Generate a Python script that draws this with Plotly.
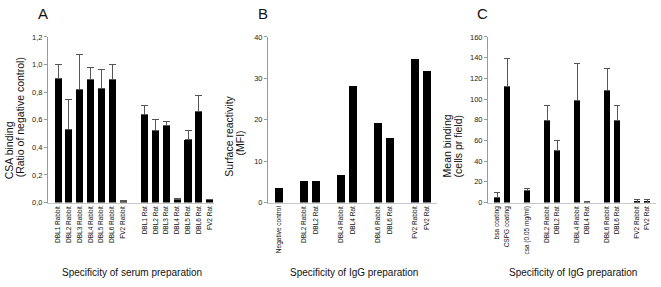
import plotly.graph_objects as go

# ---- Panel A data ----
a_cats = ["DBL1 Rabbit", "DBL2 Rabbit", "DBL3 Rabbit", "DBL4 Rabbit", "DBL5 Rabbit", "DBL6 Rabbit", "FV2 Rabbit",
          " ",
          "DBL1 Rat", "DBL2 Rat", "DBL3 Rat", "DBL4 Rat", "DBL5 Rat", "DBL6 Rat", "FV2 Rat"]
a_vals = [0.90, 0.53, 0.82, 0.89, 0.825, 0.895, 0.01,
          None,
          0.635, 0.52, 0.555, 0.02, 0.455, 0.66, 0.02]
a_err = [0.10, 0.215, 0.25, 0.09, 0.14, 0.105, 0.005,
         None,
         0.065, 0.08, 0.035, 0.01, 0.065, 0.115, 0.005]
a_ticks = [0, 0.2, 0.4, 0.6, 0.8, 1.0, 1.2]
a_ticktext = ["0,0", "0,2", "0,4", "0,6", "0,8", "1,0", "1,2"]

# ---- Panel B data ----
b_cats = ["Negative control", " ", "DBL2 Rabbit", "DBL2 Rat", "  ", "DBL4 Rabbit", "DBL4 Rat",
          "   ", "DBL6 Rabbit", "DBL6 Rat", "    ", "FV2 Rabbit", "FV2 Rat"]
b_vals = [3.5, None, 5.3, 5.3, None, 6.7, 28.2, None, 19.3, 15.7, None, 34.8, 31.8]
b_ticks = [0, 10, 20, 30, 40]

# ---- Panel C data ----
c_cats = ["bsa coating", "CSPG coating", " ", "csa (0.05 mg/ml)", "  ", "DBL2 Rabbit", "DBL2 Rat",
          "   ", "DBL4 Rabbit", "DBL4 Rat", "    ", "DBL6 Rabbit", "DBL6 Rat", "     ",
          "FV2 Rabbit", "FV2 Rat"]
c_vals = [4.7, 112.3, None, 11.5, None, 78.9, 49.9, None, 98.9, 1.0, None, 108.5, 79.5, None, 1.0, 1.0]
c_err_up = [5.3, 26.4, None, 2.2, None, 14.4, 10.3, None, 35.1, 0.5, None, 20.9, 14.3, None, 2.0, 1.5]
c_err_dn = [0, 0, None, 0, None, 0, 0, None, 0, 0, None, 0, 0, None, 1.0, 1.0]
c_ticks = [0, 20, 40, 60, 80, 100, 120, 140, 160]

W, H = 661, 287
FONT = "Liberation Sans, Arial, sans-serif"
ERRC = "#555555"

fig = go.Figure()

fig.add_trace(go.Bar(
    x=a_cats, y=a_vals, marker=dict(color="black", line=dict(width=0)), width=0.65,
    error_y=dict(type="data", symmetric=False, array=a_err, arrayminus=[0] * len(a_err),
                 color=ERRC, thickness=1, width=3.5),
    xaxis="x", yaxis="y", showlegend=False))

fig.add_trace(go.Bar(
    x=b_cats, y=b_vals, marker=dict(color="black", line=dict(width=0)), width=0.65,
    xaxis="x2", yaxis="y2", showlegend=False))

fig.add_trace(go.Bar(
    x=c_cats, y=c_vals, marker=dict(color="black", line=dict(width=0)), width=0.6,
    error_y=dict(type="data", symmetric=False, array=c_err_up, arrayminus=c_err_dn,
                 color=ERRC, thickness=1, width=3),
    xaxis="x3", yaxis="y3", showlegend=False))

ydom = [(H - 205) / H, (H - 34) / H]
a_dom, a_rng = [48 / W, 214 / W], [-0.93, 14.4]
b_dom, b_rng = [268 / W, 437 / W], [-0.9, 12.8]
c_dom, c_rng = [488 / W, 656 / W], [-0.9, 15.9]


def xax(domain, rng, cats):
    return dict(domain=domain, range=rng, type="category", categoryorder="array", categoryarray=cats,
                showline=True, linecolor="#c8c8c8", linewidth=1, ticks="", tickangle=-90,
                tickfont=dict(size=6.5, color="#111", family=FONT), showgrid=False, zeroline=False,
                fixedrange=True)


def gapax(domain, rng, cats, over, anchor):
    # overlay axis that only draws small tick marks at the gap slots between groups
    gaps = [i for i, c in enumerate(cats) if c.strip() == ""]
    return dict(domain=domain, range=rng, type="linear", overlaying=over, anchor=anchor, side="bottom",
                showline=False, ticks="outside", ticklen=3, tickcolor="#9a9a9a", tickwidth=1,
                tickvals=gaps, showticklabels=False, showgrid=False, zeroline=False, fixedrange=True)


def yax(anchor, rng, tv, tt=None):
    d = dict(domain=ydom, range=rng, anchor=anchor, showline=True, linecolor="#9a9a9a", linewidth=1,
             ticks="outside", ticklen=3, tickcolor="#9a9a9a", tickvals=tv,
             tickfont=dict(size=7.5, color="#222", family=FONT), showgrid=False, zeroline=False)
    if tt is not None:
        d["ticktext"] = tt
    return d


fig.update_layout(
    width=W, height=H, margin=dict(l=0, r=0, t=0, b=0),
    paper_bgcolor="white", plot_bgcolor="white",
    font=dict(family=FONT, color="#111"),
    bargap=0,
    xaxis=xax(a_dom, a_rng, a_cats),
    xaxis2=dict(xax(b_dom, b_rng, b_cats), anchor="y2"),
    xaxis3=dict(xax(c_dom, c_rng, c_cats), anchor="y3"),
    xaxis4=gapax(a_dom, a_rng, a_cats, "x", "y"),
    xaxis5=gapax(b_dom, b_rng, b_cats, "x2", "y2"),
    yaxis=yax("x", [0, 1.2], a_ticks, a_ticktext),
    yaxis2=yax("x2", [0, 40], b_ticks),
    yaxis3=yax("x3", [0, 160], c_ticks),
)
fig.layout.xaxis.anchor = "y"


def ann(text, x, y, size, angle=0):
    fig.add_annotation(text=text, x=x / W, y=1 - y / H, xref="paper", yref="paper",
                       showarrow=False, textangle=angle, xanchor="center", yanchor="middle",
                       font=dict(size=size, family=FONT, color="#111"))


# panel letters
ann("A", 43, 10, 15)
ann("B", 263, 10, 15)
ann("C", 482, 10, 15)

# x titles
ann("Specificity of serum preparation", 132, 277, 10)
ann("Specificity of IgG preparation", 354, 277, 10)
ann("Specificity of IgG preparation", 573, 277, 10)

# y titles (each line placed separately)
ann("CSA binding", 9, 151, 10.5, -90)
ann("(Ratio of negative control)", 20, 117, 10.5, -90)
ann("Surface reactivity", 229, 137, 10.5, -90)
ann("(MFI)", 240, 144, 10.5, -90)
ann("Mean binding", 447, 146, 10.5, -90)
ann("(cells pr field)", 458, 147, 10.5, -90)

fig.write_html("out.html", config={"displayModeBar": False},
               post_script="document.body.style.margin='0';document.body.style.padding='0';")
